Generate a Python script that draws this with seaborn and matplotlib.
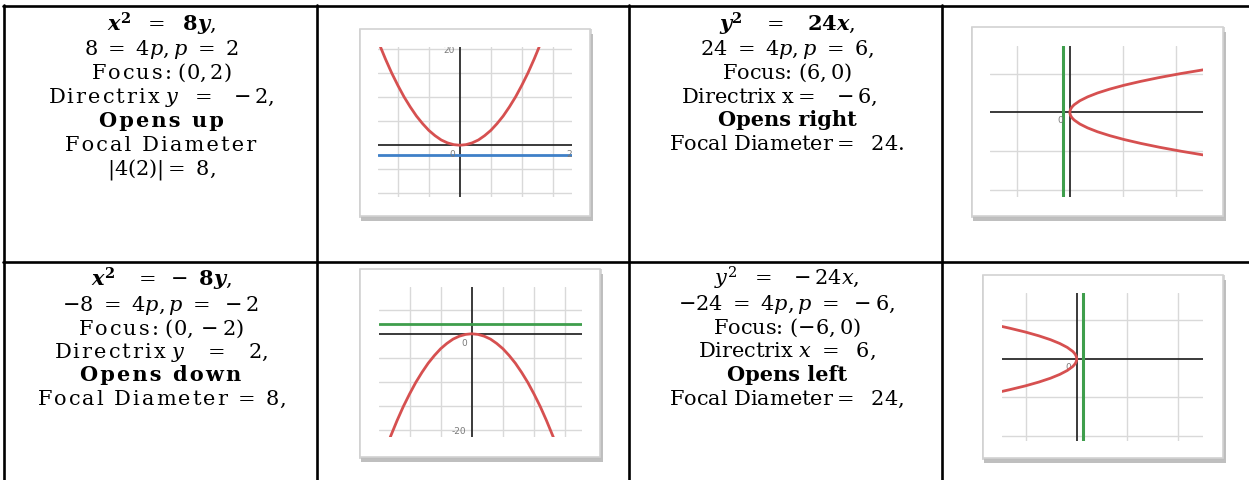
import matplotlib
matplotlib.use("Agg")

import matplotlib.pyplot as plt
import seaborn as sns
from matplotlib.lines import Line2D
from matplotlib.patches import Rectangle

# ---- values ----
# x^2 = 8y  (opens up)
up_x = [-12.8, -12, -11, -10, -9, -8, -7, -6, -5, -4, -3, -2, -1, 0,
        1, 2, 3, 4, 5, 6, 7, 8, 9, 10, 11, 12, 12.8]
up_y = [20.5, 18, 15.1, 12.5, 10.1, 8, 6.1, 4.5, 3.1, 2, 1.1, 0.5, 0.13, 0,
        0.13, 0.5, 1.1, 2, 3.1, 4.5, 6.1, 8, 10.1, 12.5, 15.1, 18, 20.5]
# y^2 = 24x  (opens right)
right_y = [-54.8, -50, -45, -40, -35, -30, -25, -20, -15, -10, -8, -6, -4, -2, 0,
           2, 4, 6, 8, 10, 15, 20, 25, 30, 35, 40, 45, 50, 54.8]
right_x = [125.1, 104.2, 84.4, 66.7, 51.0, 37.5, 26.0, 16.7, 9.4, 4.17, 2.67, 1.5, 0.67, 0.17, 0,
           0.17, 0.67, 1.5, 2.67, 4.17, 9.4, 16.7, 26.0, 37.5, 51.0, 66.7, 84.4, 104.2, 125.1]
# x^2 = -8y  (opens down)
down_x = [-13.1, -12, -11, -10, -9, -8, -7, -6, -5, -4, -3, -2, -1, 0,
          1, 2, 3, 4, 5, 6, 7, 8, 9, 10, 11, 12, 13.1]
down_y = [-21.45, -18, -15.1, -12.5, -10.1, -8, -6.1, -4.5, -3.1, -2, -1.1, -0.5, -0.13, 0,
          -0.13, -0.5, -1.1, -2, -3.1, -4.5, -6.1, -8, -10.1, -12.5, -15.1, -18, -21.45]
# y^2 = -24x  (opens left)
left_y = [-42.2, -40, -35, -30, -25, -20, -15, -10, -8, -6, -4, -2, 0,
          2, 4, 6, 8, 10, 15, 20, 25, 30, 35, 40, 42.2]
left_x = [-74.2, -66.7, -51.0, -37.5, -26.0, -16.7, -9.4, -4.17, -2.67, -1.5, -0.67, -0.17, 0,
          -0.17, -0.67, -1.5, -2.67, -4.17, -9.4, -16.7, -26.0, -37.5, -51.0, -66.7, -74.2]

directrix = {"up": -2, "right": -6, "down": 2, "left": 6}

grid_small_x = [-10, -5, 5, 10, 15]
grid_up_y = [-10, -5, 5, 10, 15, 20]
grid_down_y = [-20, -15, -10, -5, 5]
grid_big = [-100, -50, 50, 100]

# "#" marks the end of the loosely spaced word in the first column
cell_up = [r"$\boldsymbol{x}^{\mathbf{2}}\ \ =\ \ \mathbf{8}\boldsymbol{y}$,",
           r"$8\ =\ 4p, p\ =\ 2$",
           "Focus:# $(0, 2)$",
           r"Directrix# $y\ \ =\ \ -2$,",
           "Opens up#",
           "Focal Diameter#",
           r"$|4(2)| =\ 8$,"]
cell_down = [r"$\boldsymbol{x}^{\mathbf{2}}\ \ \ =\ -\ \mathbf{8}\boldsymbol{y}$,",
             r"$-8\ =\ 4p, p\ =\ -2$",
             "Focus:# $(0, -2)$",
             r"Directrix# $y\ \ \ =\ \ \ 2$,",
             "Opens down#",
             r"Focal Diameter# $=\ 8$,"]
cell_right = [r"$\boldsymbol{y}^{\mathbf{2}}\ \ \ =\ \ \ \mathbf{24}\boldsymbol{x}$,",
              r"$24\ =\ 4p, p\ =\ 6$,",
              r"Focus: $(6, 0)$",
              r"Directrix x$=\ \ -6$,   ",
              "Opens right",
              r"Focal Diameter$=\ \ 24.$"]
cell_left = [r"$y^2\ \ =\ \ -24x$,",
             r"$-24\ =\ 4p, p\ =\ -6$,",
             r"Focus: $(-6, 0)$",
             r"Directrix $x\ =\ \ 6$,",
             "Opens left",
             r"Focal Diameter$=\ \ 24$,"]

sns.set_style("white")
plt.rcParams["font.family"] = ["DejaVu Serif"]
plt.rcParams["mathtext.fontset"] = "dejavuserif"

W, H = 1249, 481
fig = plt.figure(figsize=(W / 100, H / 100), dpi=100)
fig.patch.set_facecolor("white")


def fx(x):
    return x / W


def fy(y):
    return 1 - y / H


def spread(s, loose):
    if "#" not in s:
        return s
    word, rest = s.split("#", 1)
    if loose:
        word = "\u200a".join(word)
    return word + rest


# ---- table rules ----
for x in [4, 317, 629, 942]:
    fig.add_artist(Line2D([fx(x), fx(x)], [fy(6), 0], transform=fig.transFigure, color="black", lw=1.9))
for y in [7, 263]:
    fig.add_artist(Line2D([fx(3), 1], [fy(y), fy(y)], transform=fig.transFigure, color="black", lw=1.9))


# ---- text cells ----
def write_cell(lines, cx, baselines, bold_idx, loose):
    for i, (s, b) in enumerate(zip(lines, baselines)):
        fig.text(fx(cx), fy(b), spread(s, loose), ha="center", va="baseline", fontsize=15,
                 fontweight="bold" if i == bold_idx else "normal", color="black")


write_cell(cell_up, 161, [31, 55, 79, 103, 127, 151, 174], 4, True)
write_cell(cell_down, 161, [287, 311.5, 334.5, 358, 381.5, 405], 4, True)
write_cell(cell_right, 787, [31, 55, 79, 103, 126.5, 150], 4, False)
write_cell(cell_left, 787, [286, 310, 334, 357, 381, 404.5], 4, False)


# ---- little graph pictures ----
def frame(x0, y0, x1, y1):
    shadow = Rectangle((fx(x0 + 1), fy(y1 + 5)), fx(x1 - x0 + 2), (y1 - y0) / H,
                       transform=fig.transFigure, facecolor="#8c8c8c", edgecolor="none",
                       alpha=0.55, zorder=-6)
    shadow2 = Rectangle((fx(x0 - 1), fy(y1 + 2)), fx(x1 - x0 + 3), (y1 - y0 + 2) / H,
                        transform=fig.transFigure, facecolor="#bdbdbd", edgecolor="none",
                        alpha=0.6, zorder=-5)
    box = Rectangle((fx(x0), fy(y1)), fx(x1 - x0), (y1 - y0) / H,
                    transform=fig.transFigure, facecolor="white", edgecolor="#d2d2d2",
                    lw=1.2, zorder=-4)
    for p in (shadow, shadow2, box):
        fig.add_artist(p)


def graph(area):
    x0, y0, x1, y1 = area
    ax = fig.add_axes([fx(x0), fy(y1), fx(x1 - x0), (y1 - y0) / H])
    ax.set_facecolor("none")
    ax.tick_params(length=0, labelbottom=False, labelleft=False)
    for sp in ax.spines.values():
        sp.set_visible(False)
    ax.axhline(0, color="#2b2b2b", lw=1.3, zorder=2)
    ax.axvline(0, color="#2b2b2b", lw=1.3, zorder=2)
    return ax


def finish(ax, xlim, ylim, gx, gy):
    # ticks first: setting ticks afterwards would widen the limits
    ax.set_xticks(gx)
    ax.set_yticks(gy)
    ax.set_xlim(*xlim)
    ax.set_ylim(*ylim)
    ax.grid(True, color="#d9d9d9", lw=1.0)
    ax.set_xlabel("")
    ax.set_ylabel("")


red = "#d65050"
green = "#3f9e4c"
blue = "#3f80c8"
lab = dict(color="#7a7a7a", fontsize=6.5, family="DejaVu Sans", clip_on=True)

# x^2 = 8y
frame(360, 30, 590, 217)
ax = graph((378, 48, 572, 198))
ax.axhline(directrix["up"], color=blue, lw=2.0, zorder=3)
sns.lineplot(x=up_x, y=up_y, ax=ax, sort=False, estimator=None, color=red, lw=2.0, zorder=4)
finish(ax, (-13.2, 18.1), (-10.8, 20.5), grid_small_x, grid_up_y)
ax.text(-0.8, 20, "20", ha="right", va="center", **lab)
ax.text(-0.8, -0.8, "0", ha="right", va="top", **lab)
ax.text(17.2, -0.8, "20", ha="left", va="top", **lab)

# y^2 = 24x
frame(972, 28, 1223, 217)
ax = graph((990, 47, 1203, 198))
ax.axvline(directrix["right"], color=green, lw=2.2, zorder=3)
sns.lineplot(x=right_x, y=right_y, ax=ax, sort=False, estimator=None, color=red, lw=2.0, zorder=4)
finish(ax, (-75, 125), (-109, 85.5), grid_big, grid_big)
ax.text(-6, -4, "0", ha="right", va="top", **lab)

# x^2 = -8y
frame(360, 270, 600, 458)
ax = graph((379, 288, 582, 438))
ax.axhline(directrix["down"], color=green, lw=2.0, zorder=3)
sns.lineplot(x=down_x, y=down_y, ax=ax, sort=False, estimator=None, color=red, lw=2.0, zorder=4)
finish(ax, (-14.9, 17.7), (-21.4, 9.7), grid_small_x, grid_down_y)
ax.text(-0.8, -0.9, "0", ha="right", va="top", **lab)
ax.text(-0.9, -20, "-20", ha="right", va="center", **lab)

# y^2 = -24x
frame(983, 276, 1223, 459)
ax = graph((1002, 294, 1203, 442))
ax.axvline(directrix["left"], color=green, lw=2.2, zorder=3)
sns.lineplot(x=left_x, y=left_y, ax=ax, sort=False, estimator=None, color=red, lw=2.0, zorder=4)
finish(ax, (-74, 125), (-106.5, 85.6), grid_big, grid_big)
ax.text(-6, -4, "0", ha="right", va="top", **lab)

fig.savefig("out.png", dpi=100, facecolor="white")
